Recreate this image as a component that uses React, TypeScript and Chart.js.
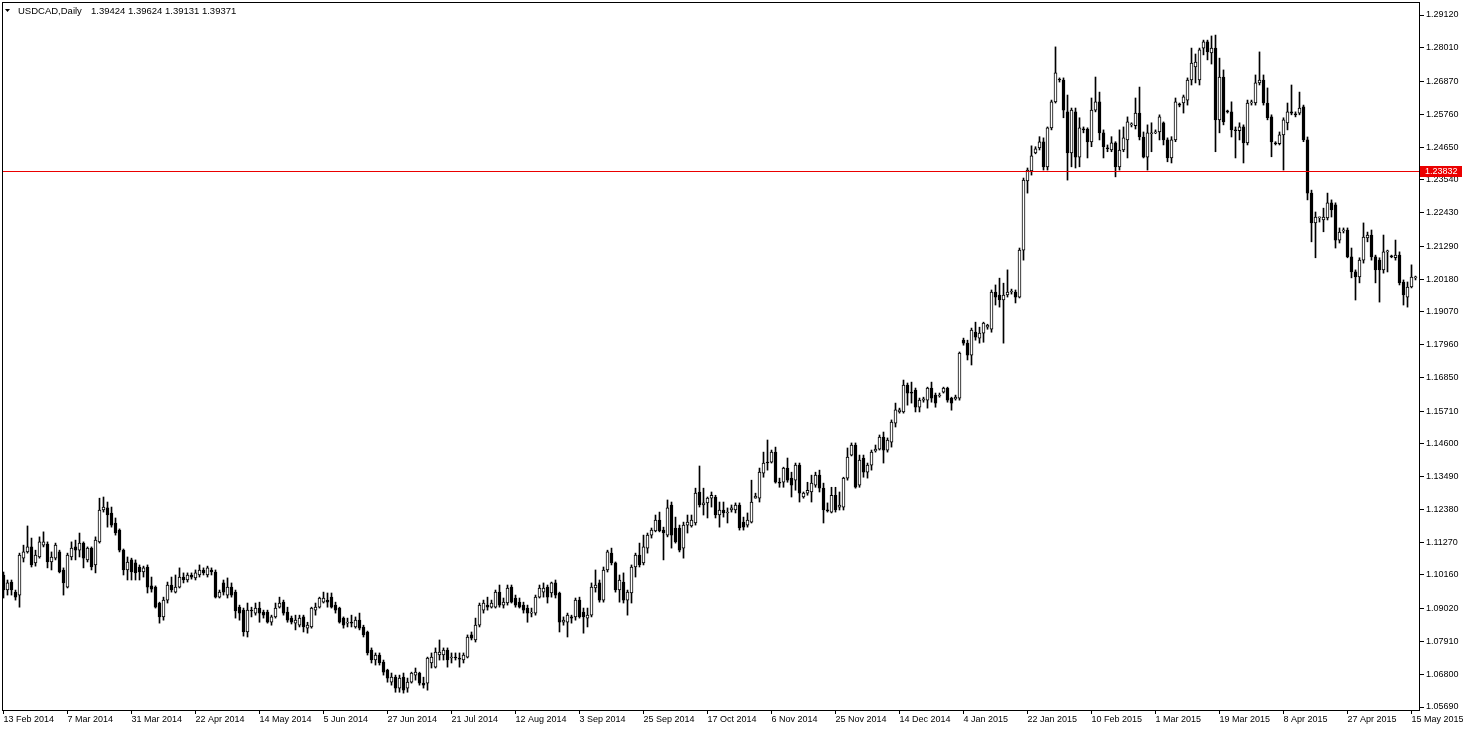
import { useEffect, useRef } from 'react';
import { Chart, registerables } from 'chart.js';

Chart.register(...registerables);

// ---- data (USDCAD daily) ----
const opens = [
  1.1016,1.0965,1.0992,1.0958,1.0948,1.1073,1.1094,1.1111,1.1057,1.1077,
  1.1117,1.1121,1.1060,1.1073,1.1094,1.1033,1.0975,1.1077,1.1111,1.1100,
  1.1124,1.1067,1.1107,1.1050,1.1128,1.1236,1.1243,1.1226,1.1192,1.1168,
  1.1100,1.1033,1.1067,1.1057,1.1043,1.1026,1.1043,1.0979,1.0975,1.0921,
  1.0874,1.0931,1.0982,1.0958,1.0975,1.1009,1.0999,1.1016,1.1006,1.1016,
  1.1033,1.1016,1.1033,1.1026,1.0941,1.0989,1.0948,1.0975,1.0958,1.0907,
  1.0897,1.0823,1.0897,1.0887,1.0904,1.0890,1.0890,1.0856,1.0874,1.0907,
  1.0924,1.0890,1.0870,1.0853,1.0846,1.0874,1.0836,1.0840,1.0897,1.0907,
  1.0924,1.0931,1.0941,1.0914,1.0904,1.0870,1.0853,1.0856,1.0840,1.0863,
  1.0840,1.0823,1.0762,1.0728,1.0745,1.0721,1.0694,1.0653,1.0670,1.0633,
  1.0670,1.0633,1.0653,1.0677,1.0684,1.0650,1.0650,1.0718,1.0704,1.0745,
  1.0745,1.0762,1.0735,1.0738,1.0735,1.0728,1.0738,1.0813,1.0796,1.0846,
  1.0897,1.0914,1.0907,1.0907,1.0958,1.0914,1.0921,1.0975,1.0938,1.0924,
  1.0914,1.0904,1.0887,1.0887,1.0941,1.0958,1.0975,1.0955,1.0989,1.0955,
  1.0856,1.0856,1.0874,1.0874,1.0931,1.0890,1.0870,1.0880,1.0972,1.0989,
  1.0931,1.1033,1.1090,1.1057,1.0965,1.0992,1.0931,1.0955,1.1043,1.1083,
  1.1057,1.1107,1.1151,1.1165,1.1202,1.1168,1.1151,1.1253,1.1175,1.1175,
  1.1107,1.1185,1.1182,1.1192,1.1297,1.1253,1.1260,1.1276,1.1280,1.1219,
  1.1236,1.1226,1.1236,1.1236,1.1253,1.1195,1.1185,1.1195,1.1276,1.1276,
  1.1361,1.1398,1.1398,1.1432,1.1330,1.1330,1.1378,1.1344,1.1337,1.1388,
  1.1280,1.1293,1.1297,1.1320,1.1354,1.1310,1.1236,1.1229,1.1286,1.1246,
  1.1246,1.1344,1.1422,1.1456,1.1320,1.1412,1.1364,1.1388,1.1436,1.1442,
  1.1483,1.1439,1.1466,1.1530,1.1568,1.1568,1.1659,1.1635,1.1642,1.1584,
  1.1608,1.1608,1.1649,1.1625,1.1622,1.1635,1.1649,1.1615,1.1612,1.1615,
  1.1811,1.1801,1.1760,1.1838,1.1818,1.1835,1.1855,1.1848,1.1974,1.1964,
  1.1947,1.1964,1.1974,1.1974,1.1957,1.2116,1.2350,1.2384,1.2445,1.2462,
  1.2483,1.2398,1.2530,1.2618,1.2695,1.2692,1.2584,1.2445,1.2584,1.2431,
  1.2526,1.2526,1.2482,1.2590,1.2618,1.2513,1.2462,1.2455,1.2479,1.2398,
  1.2455,1.2489,1.2540,1.2537,1.2580,1.2499,1.2431,1.2510,1.2513,1.2516,
  1.2547,1.2489,1.2428,1.2489,1.2611,1.2614,1.2624,1.2692,1.2736,1.2692,
  1.2800,1.2821,1.2784,1.2800,1.2557,1.2702,1.2587,1.2584,1.2523,1.2520,
  1.2533,1.2479,1.2614,1.2614,1.2682,1.2692,1.2614,1.2567,1.2479,1.2476,
  1.2506,1.2547,1.2584,1.2577,1.2580,1.2601,1.2489,1.2309,1.2208,1.2225,
  1.2218,1.2225,1.2276,1.2269,1.2150,1.2181,1.2184,1.2093,1.2042,1.2025,
  1.2082,1.2157,1.2167,1.2093,1.2082,1.2049,1.2110,1.2096,1.2090,1.2099,
  1.2008,1.1957,1.1991,1.2022,
];

const highs = [
  1.1026,1.0999,1.0999,1.0965,1.1090,1.1117,1.1182,1.1141,1.1100,1.1145,
  1.1162,1.1128,1.1094,1.1124,1.1100,1.1040,1.1090,1.1128,1.1134,1.1158,
  1.1128,1.1111,1.1111,1.1145,1.1276,1.1280,1.1263,1.1246,1.1209,1.1172,
  1.1104,1.1077,1.1073,1.1067,1.1050,1.1046,1.1050,1.1009,1.0979,1.0924,
  1.0941,1.0992,1.1009,1.1016,1.1040,1.1023,1.1023,1.1023,1.1033,1.1050,
  1.1040,1.1046,1.1040,1.1033,1.0965,1.0999,1.1006,1.0989,1.0965,1.0914,
  1.0904,1.0921,1.0907,1.0921,1.0924,1.0897,1.0897,1.0880,1.0921,1.0941,
  1.0931,1.0907,1.0877,1.0880,1.0880,1.0880,1.0856,1.0907,1.0921,1.0941,
  1.0958,1.0955,1.0955,1.0924,1.0907,1.0874,1.0870,1.0880,1.0874,1.0887,
  1.0846,1.0826,1.0769,1.0752,1.0752,1.0728,1.0697,1.0684,1.0677,1.0677,
  1.0684,1.0667,1.0687,1.0701,1.0687,1.0670,1.0738,1.0752,1.0769,1.0796,
  1.0769,1.0769,1.0752,1.0752,1.0752,1.0752,1.0813,1.0823,1.0870,1.0921,
  1.0931,1.0941,1.0931,1.0965,1.0982,1.0938,1.0982,1.0982,1.0948,1.0938,
  1.0924,1.0914,1.0904,1.0948,1.0982,1.0989,1.0982,1.0992,1.0999,1.0958,
  1.0874,1.0887,1.0880,1.0938,1.0941,1.0904,1.0904,1.0989,1.1033,1.0999,
  1.1043,1.1100,1.1107,1.1060,1.1016,1.1023,1.0965,1.1050,1.1090,1.1124,
  1.1151,1.1158,1.1175,1.1219,1.1229,1.1178,1.1270,1.1263,1.1212,1.1185,
  1.1195,1.1219,1.1219,1.1310,1.1385,1.1310,1.1280,1.1297,1.1286,1.1263,
  1.1263,1.1243,1.1253,1.1260,1.1260,1.1212,1.1226,1.1337,1.1293,1.1378,
  1.1432,1.1473,1.1439,1.1449,1.1344,1.1381,1.1412,1.1364,1.1395,1.1395,
  1.1297,1.1330,1.1354,1.1364,1.1371,1.1327,1.1260,1.1313,1.1313,1.1297,
  1.1347,1.1446,1.1463,1.1463,1.1422,1.1422,1.1395,1.1439,1.1456,1.1490,
  1.1500,1.1480,1.1541,1.1598,1.1581,1.1676,1.1666,1.1669,1.1649,1.1615,
  1.1618,1.1652,1.1669,1.1632,1.1632,1.1652,1.1652,1.1618,1.1625,1.1771,
  1.1818,1.1811,1.1852,1.1872,1.1855,1.1872,1.1865,1.1981,1.1998,1.2021,
  1.2004,1.2049,1.1984,1.1981,1.2123,1.2360,1.2394,1.2469,1.2466,1.2500,
  1.2496,1.2533,1.2624,1.2804,1.2699,1.2699,1.2641,1.2597,1.2597,1.2564,
  1.2533,1.2530,1.2631,1.2702,1.2651,1.2523,1.2472,1.2500,1.2483,1.2523,
  1.2533,1.2567,1.2547,1.2631,1.2668,1.2516,1.2540,1.2547,1.2523,1.2574,
  1.2550,1.2496,1.2500,1.2631,1.2614,1.2641,1.2699,1.2800,1.2780,1.2800,
  1.2827,1.2827,1.2841,1.2844,1.2766,1.2726,1.2590,1.2618,1.2533,1.2547,
  1.2540,1.2624,1.2624,1.2709,1.2787,1.2709,1.2665,1.2574,1.2483,1.2516,
  1.2564,1.2614,1.2675,1.2584,1.2651,1.2607,1.2499,1.2319,1.2245,1.2228,
  1.2258,1.2309,1.2286,1.2276,1.2191,1.2191,1.2191,1.2123,1.2049,1.2090,
  1.2208,1.2177,1.2184,1.2099,1.2090,1.2167,1.2116,1.2099,1.2150,1.2110,
  1.2015,1.2008,1.2066,1.2028,
];

const lows = [
  1.0938,1.0948,1.0948,1.0931,1.0907,1.1060,1.1090,1.1043,1.1046,1.1073,
  1.1111,1.1040,1.1033,1.1067,1.1023,1.0948,1.0972,1.1067,1.1067,1.1077,
  1.1040,1.1060,1.1033,1.1023,1.1124,1.1229,1.1178,1.1178,1.1151,1.1094,
  1.1016,1.0999,1.0999,1.0999,1.0999,1.1009,1.0955,1.0958,1.0904,1.0853,
  1.0863,1.0921,1.0958,1.0955,1.0972,1.0989,1.0992,1.1002,1.0999,1.1009,
  1.1016,1.1009,1.1016,1.0938,1.0938,1.0948,1.0938,1.0941,1.0870,1.0863,
  1.0809,1.0806,1.0874,1.0880,1.0856,1.0870,1.0853,1.0846,1.0870,1.0904,
  1.0880,1.0856,1.0850,1.0830,1.0840,1.0823,1.0819,1.0836,1.0880,1.0904,
  1.0921,1.0907,1.0904,1.0887,1.0853,1.0836,1.0840,1.0840,1.0836,1.0830,
  1.0806,1.0745,1.0718,1.0711,1.0711,1.0677,1.0653,1.0643,1.0619,1.0619,
  1.0616,1.0619,1.0650,1.0660,1.0643,1.0633,1.0626,1.0701,1.0701,1.0728,
  1.0728,1.0704,1.0718,1.0728,1.0704,1.0718,1.0735,1.0796,1.0789,1.0840,
  1.0887,1.0897,1.0904,1.0904,1.0907,1.0904,1.0914,1.0921,1.0907,1.0904,
  1.0887,1.0856,1.0874,1.0880,1.0938,1.0941,1.0921,1.0941,1.0938,1.0823,
  1.0846,1.0806,1.0853,1.0863,1.0870,1.0819,1.0840,1.0874,1.0958,1.0924,
  1.0924,1.1026,1.1050,1.0958,1.0924,1.0921,1.0880,1.0921,1.1009,1.1043,
  1.1050,1.1090,1.1141,1.1162,1.1162,1.1067,1.1145,1.1107,1.1124,1.1094,
  1.1073,1.1158,1.1178,1.1185,1.1246,1.1219,1.1209,1.1246,1.1209,1.1178,
  1.1212,1.1192,1.1229,1.1226,1.1168,1.1168,1.1178,1.1192,1.1276,1.1263,
  1.1347,1.1371,1.1395,1.1327,1.1313,1.1313,1.1330,1.1280,1.1303,1.1263,
  1.1276,1.1286,1.1263,1.1313,1.1297,1.1192,1.1229,1.1226,1.1229,1.1236,
  1.1236,1.1337,1.1419,1.1310,1.1313,1.1347,1.1344,1.1371,1.1432,1.1439,
  1.1395,1.1432,1.1449,1.1517,1.1564,1.1564,1.1591,1.1598,1.1568,1.1568,
  1.1601,1.1581,1.1601,1.1584,1.1618,1.1632,1.1601,1.1574,1.1608,1.1608,
  1.1794,1.1744,1.1727,1.1811,1.1801,1.1804,1.1848,1.1838,1.1930,1.1923,
  1.1801,1.1957,1.1967,1.1937,1.1954,1.2082,1.2309,1.2370,1.2442,1.2455,
  1.2387,1.2387,1.2523,1.2614,1.2685,1.2564,1.2353,1.2398,1.2394,1.2398,
  1.2513,1.2428,1.2466,1.2584,1.2489,1.2428,1.2449,1.2449,1.2364,1.2387,
  1.2449,1.2428,1.2533,1.2526,1.2489,1.2428,1.2387,1.2449,1.2510,1.2489,
  1.2472,1.2415,1.2411,1.2483,1.2601,1.2580,1.2607,1.2675,1.2682,1.2675,
  1.2777,1.2760,1.2746,1.2449,1.2513,1.2540,1.2580,1.2499,1.2428,1.2489,
  1.2411,1.2472,1.2607,1.2607,1.2675,1.2607,1.2557,1.2432,1.2472,1.2472,
  1.2387,1.2523,1.2574,1.2567,1.2574,1.2483,1.2286,1.2144,1.2090,1.2211,
  1.2178,1.2218,1.2228,1.2123,1.2140,1.2174,1.2090,1.2022,1.1947,1.2005,
  1.2072,1.2144,1.2082,1.2005,1.1940,1.2038,1.2042,1.2090,1.2082,1.1998,
  1.1930,1.1923,1.1988,1.2015,
];

const closes = [
  1.0965,1.0989,1.0965,1.0941,1.1083,1.1094,1.1111,1.1050,1.1083,1.1128,
  1.1128,1.1060,1.1077,1.1117,1.1026,1.0989,1.1083,1.1107,1.1100,1.1124,
  1.1073,1.1107,1.1043,1.1134,1.1236,1.1246,1.1219,1.1185,1.1158,1.1100,
  1.1033,1.1060,1.1026,1.1023,1.1026,1.1040,1.0975,1.0968,1.0907,1.0874,
  1.0931,1.0982,1.0965,1.0975,1.1009,1.0999,1.1016,1.1009,1.1023,1.1033,
  1.1023,1.1040,1.1026,1.0941,1.0958,1.0958,1.0975,1.0948,1.0894,1.0887,
  1.0823,1.0897,1.0894,1.0904,1.0887,1.0880,1.0856,1.0874,1.0904,1.0921,
  1.0887,1.0863,1.0856,1.0863,1.0870,1.0840,1.0846,1.0904,1.0907,1.0938,
  1.0938,1.0924,1.0907,1.0897,1.0856,1.0846,1.0856,1.0853,1.0863,1.0836,
  1.0813,1.0752,1.0728,1.0745,1.0718,1.0687,1.0667,1.0670,1.0633,1.0667,
  1.0626,1.0653,1.0684,1.0687,1.0650,1.0643,1.0735,1.0738,1.0755,1.0755,
  1.0762,1.0728,1.0738,1.0735,1.0731,1.0745,1.0806,1.0802,1.0846,1.0914,
  1.0921,1.0907,1.0921,1.0958,1.0914,1.0924,1.0972,1.0924,1.0914,1.0907,
  1.0897,1.0887,1.0890,1.0941,1.0972,1.0972,1.0941,1.0989,1.0948,1.0856,
  1.0863,1.0880,1.0870,1.0931,1.0874,1.0874,1.0880,1.0975,1.0982,1.0931,
  1.1033,1.1094,1.1057,1.0965,1.0999,1.0931,1.0958,1.1043,1.1083,1.1050,
  1.1111,1.1151,1.1168,1.1202,1.1165,1.1158,1.1243,1.1151,1.1128,1.1100,
  1.1185,1.1195,1.1202,1.1293,1.1253,1.1260,1.1276,1.1286,1.1219,1.1236,
  1.1226,1.1229,1.1243,1.1253,1.1175,1.1178,1.1202,1.1263,1.1283,1.1364,
  1.1395,1.1395,1.1432,1.1330,1.1327,1.1378,1.1337,1.1320,1.1388,1.1293,
  1.1293,1.1303,1.1327,1.1354,1.1310,1.1236,1.1233,1.1286,1.1236,1.1253,
  1.1344,1.1415,1.1456,1.1313,1.1405,1.1364,1.1388,1.1432,1.1442,1.1483,
  1.1439,1.1473,1.1534,1.1575,1.1575,1.1659,1.1632,1.1632,1.1584,1.1608,
  1.1612,1.1649,1.1615,1.1598,1.1625,1.1649,1.1608,1.1598,1.1618,1.1767,
  1.1801,1.1760,1.1845,1.1821,1.1835,1.1869,1.1862,1.1974,1.1957,1.1947,
  1.1964,1.1974,1.1977,1.1957,1.2116,1.2353,1.2387,1.2435,1.2459,1.2483,
  1.2398,1.2530,1.2618,1.2716,1.2692,1.2590,1.2445,1.2590,1.2431,1.2530,
  1.2523,1.2482,1.2590,1.2618,1.2513,1.2466,1.2459,1.2479,1.2398,1.2455,
  1.2496,1.2550,1.2543,1.2580,1.2499,1.2431,1.2513,1.2513,1.2516,1.2567,
  1.2489,1.2428,1.2489,1.2618,1.2607,1.2635,1.2692,1.2749,1.2753,1.2794,
  1.2821,1.2787,1.2800,1.2557,1.2702,1.2550,1.2584,1.2523,1.2520,1.2533,
  1.2479,1.2614,1.2618,1.2682,1.2692,1.2614,1.2564,1.2482,1.2476,1.2506,
  1.2557,1.2584,1.2580,1.2574,1.2597,1.2489,1.2309,1.2208,1.2228,1.2228,
  1.2228,1.2276,1.2252,1.2150,1.2177,1.2184,1.2093,1.2042,1.2025,1.2082,
  1.2160,1.2167,1.2093,1.2049,1.2049,1.2110,1.2113,1.2093,1.2099,1.2005,
  1.1964,1.1991,1.2025,1.2025,
];

const dateLabels = [
  '13 Feb 2014', '7 Mar 2014', '31 Mar 2014', '22 Apr 2014', '14 May 2014',
  '5 Jun 2014', '27 Jun 2014', '21 Jul 2014', '12 Aug 2014', '3 Sep 2014',
  '25 Sep 2014', '17 Oct 2014', '6 Nov 2014', '25 Nov 2014', '14 Dec 2014',
  '4 Jan 2015', '22 Jan 2015', '10 Feb 2015', '1 Mar 2015', '19 Mar 2015',
  '8 Apr 2015', '27 Apr 2015', '15 May 2015',
];
const barsPerDateLabel = 16;

const priceTicks = [
  1.29120, 1.28010, 1.26870, 1.25760, 1.24650, 1.23540, 1.22430, 1.21290,
  1.20180, 1.19070, 1.17960, 1.16850, 1.15710, 1.14600, 1.13490, 1.12380,
  1.11270, 1.10160, 1.09020, 1.07910, 1.06800, 1.05690,
];

const markerPrice = 1.23832;
const symbolTitle = 'USDCAD,Daily';
const quoteTitle = '1.39424 1.39624 1.39131 1.39371';

// ---- presentation ----
const FONT = '"Liberation Sans", Arial, sans-serif';
const W = 1463;
const H = 731;
const RED = 'rgb(235,0,0)';

const overlayPlugin = {
  id: 'mt4Overlay',
  afterDatasetsDraw(chart: any) {
    const { ctx, chartArea, scales } = chart;
    const y = Math.round(scales.y.getPixelForValue(markerPrice));
    ctx.save();
    ctx.fillStyle = RED;
    ctx.fillRect(chartArea.left, y, chartArea.right - chartArea.left, 1);
    ctx.restore();
  },
  afterDraw(chart: any) {
    const { ctx, chartArea, scales } = chart;
    ctx.save();
    // frame
    ctx.strokeStyle = '#000';
    ctx.lineWidth = 1;
    ctx.strokeRect(
      chartArea.left + 0.5,
      chartArea.top + 0.5,
      chartArea.right - chartArea.left - 1,
      chartArea.bottom - chartArea.top - 1
    );
    // header
    ctx.fillStyle = '#000';
    ctx.beginPath();
    ctx.moveTo(5, 9);
    ctx.lineTo(10, 9);
    ctx.lineTo(7.5, 12);
    ctx.closePath();
    ctx.fill();
    ctx.font = `9.5px ${FONT}`;
    ctx.textBaseline = 'middle';
    ctx.textAlign = 'left';
    ctx.fillText(symbolTitle, 18, 11.5);
    ctx.fillText(quoteTitle, 91, 11.5);
    // marker price label
    const y = Math.round(scales.y.getPixelForValue(markerPrice));
    ctx.fillStyle = RED;
    ctx.fillRect(chartArea.right, y - 5, W - 1 - chartArea.right, 11);
    ctx.fillStyle = '#fff';
    ctx.font = `9px ${FONT}`;
    ctx.fillText(markerPrice.toFixed(5), chartArea.right + 5, y + 0.5);
    ctx.restore();
  },
};

export default function App() {
  const canvasRef = useRef<HTMLCanvasElement | null>(null);

  useEffect(() => {
    document.body.style.margin = '0';
    const canvas = canvasRef.current;
    if (!canvas) return;

    const wickData = opens.map((_, i) => ({ x: i, y: [lows[i], highs[i]] }));
    const bodyData = opens.map((o, i) => ({ x: i, y: [o, closes[i]] }));
    const bodyColors = opens.map((o, i) => (closes[i] >= o ? '#ffffff' : '#000000'));

    const chart = new Chart(canvas, {
      type: 'bar',
      data: {
        datasets: [
          {
            label: 'body',
            data: bodyData as any,
            backgroundColor: bodyColors,
            borderColor: '#000',
            borderWidth: 1,
            borderSkipped: false,
            barThickness: 3,
            minBarLength: 1,
            grouped: false,
            order: 1,
          } as any,
          {
            label: 'wick',
            data: wickData as any,
            backgroundColor: '#000',
            borderWidth: 0,
            barThickness: 1,
            grouped: false,
            order: 2,
          } as any,
        ],
      },
      options: {
        animation: false,
        responsive: false,
        devicePixelRatio: 1,
        events: [],
        layout: { padding: { left: 2, top: 2, right: 0, bottom: 0 } },
        plugins: {
          legend: { display: false },
          tooltip: { enabled: false },
          title: { display: false },
        },
        scales: {
          x: {
            type: 'linear',
            position: 'bottom',
            min: -0.375,
            max: 354.125,
            bounds: 'data',
            offset: false,
            border: { display: false },
            grid: {
              offset: false,
              drawOnChartArea: false,
              drawTicks: true,
              tickLength: 3,
              color: '#000',
            },
            ticks: {
              autoSkip: false,
              maxRotation: 0,
              minRotation: 0,
              align: 'start',
              padding: 0,
              color: '#000',
              font: { family: FONT, size: 9 },
              callback: (_v: any, index: number) => dateLabels[index] ?? '',
            },
            afterBuildTicks: (scale: any) => {
              scale.ticks = dateLabels.map((_, k) => ({ value: k * barsPerDateLabel }));
            },
            afterFit: (scale: any) => {
              scale.height = 20;
              scale.paddingLeft = 0;
              scale.paddingRight = 0;
            },
          } as any,
          y: {
            type: 'linear',
            position: 'right',
            min: 1.055546,
            max: 1.295602,
            bounds: 'data',
            border: { display: false },
            grid: {
              drawOnChartArea: false,
              drawTicks: true,
              tickLength: 4,
              color: '#000',
            },
            ticks: {
              padding: 2,
              color: '#000',
              font: { family: FONT, size: 9 },
              callback: (v: any) => Number(v).toFixed(5),
            },
            afterBuildTicks: (scale: any) => {
              scale.ticks = priceTicks.map((v) => ({ value: v }));
            },
            afterFit: (scale: any) => {
              scale.width = 43;
              scale.paddingTop = 0;
              scale.paddingBottom = 0;
            },
          } as any,
        },
      } as any,
      plugins: [overlayPlugin],
    });

    return () => chart.destroy();
  }, []);

  return (
    <div style={{ position: 'absolute', left: 0, top: 0, width: W, height: H, background: '#fff' }}>
      <canvas ref={canvasRef} width={W} height={H} style={{ display: 'block' }} />
    </div>
  );
}
